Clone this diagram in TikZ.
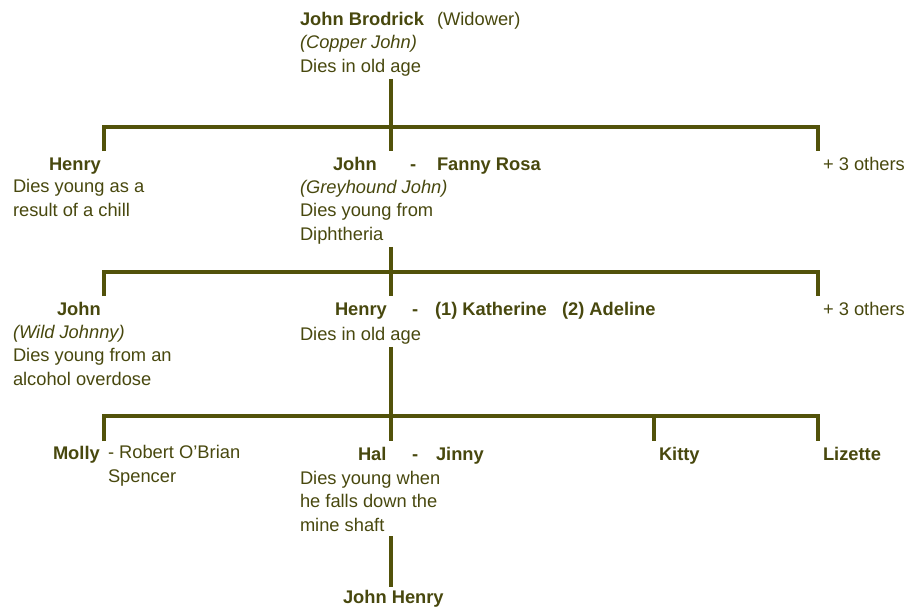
\documentclass[tikz,border=0pt]{standalone}
\usepackage{fontspec}
\setmainfont{Liberation Sans}
\usetikzlibrary{positioning}
\definecolor{treetext}{RGB}{72,72,14}
\definecolor{treeline}{RGB}{82,82,10}

\begin{document}
\begin{tikzpicture}[x=1pt,y=-1pt,
    person/.style={anchor=base west,inner sep=0pt,outer sep=0pt,text=treetext,font=\fontsize{18.3}{23.5}\selectfont\bfseries},
    note/.style={anchor=base west,inner sep=0pt,outer sep=0pt,align=left,text=treetext,font=\fontsize{18.3}{23.5}\selectfont},
    branch/.style={draw=treeline,line width=4.6pt}]
    \useasboundingbox (0,0) rectangle (907,606);

    \node [person] (brodrick) at (300,25) {John Brodrick};
    \node [note] (widower) at (437,25) {(Widower)};
    \node [note] (brodrickinfo) at (300,72) {\textit{(Copper John)}\\Dies in old age};

    \node [person] (henry1) at (49,170) {Henry};
    \node [note] (henry1info) at (13,216) {Dies young as a\\result of a chill};
    \node [person] (john1) at (333,170) {John};
    \node [person] (dash1) at (410,170) {-};
    \node [person] (fanny) at (437,170) {Fanny Rosa};
    \node [note] (john1info) at (300,240) {\textit{(Greyhound John)}\\Dies young from\\Diphtheria};
    \node [note] (others1) at (823,170) {+ 3 others};

    \node [person] (john2) at (57,315) {John};
    \node [note] (john2info) at (13,385) {\textit{(Wild Johnny)}\\Dies young from an\\alcohol overdose};
    \node [person] (henry2) at (335,315) {Henry};
    \node [person] (dash2) at (412,315) {-};
    \node [person] (katherine) at (435,315) {(1) Katherine};
    \node [person] (adeline) at (562,315) {(2) Adeline};
    \node [note] (henry2info) at (300,340) {Dies in old age};
    \node [note] (others2) at (823,315) {+ 3 others};

    \node [person] (molly) at (53,459) {Molly};
    \node [note] (robert) at (108,482) {- Robert O'Brian\\Spencer};
    \node [person] (hal) at (358,460) {Hal};
    \node [person] (dash3) at (412,460) {-};
    \node [person] (jinny) at (436,460) {Jinny};
    \node [note] (halinfo) at (300,531) {Dies young when\\he falls down the\\mine shaft};
    \node [person] (kitty) at (659,460) {Kitty};
    \node [person] (lizette) at (823,460) {Lizette};
    \node [person] (johnhenry) at (343,603) {John Henry};

    \coordinate (bar1) at (391,127);
    \coordinate (bar2) at (391,272);
    \coordinate (bar3) at (391,416);
    \coordinate (tick1a) at (104,151);
    \coordinate (tick1b) at (391,151);
    \coordinate (tick1c) at (818,151);
    \coordinate (tick2a) at (104,296);
    \coordinate (tick2b) at (391,296);
    \coordinate (tick2c) at (818,296);
    \coordinate (tick3a) at (104,441);
    \coordinate (tick3b) at (391,441);
    \coordinate (tick3c) at (654,441);
    \coordinate (tick3d) at (818,441);

    \draw [branch,shorten <=3pt] (brodrickinfo.south -| bar1) -- (tick1b);
    \draw [branch] (tick1a) |- (bar1) -| (tick1c);

    \draw [branch,shorten <=3pt] (john1info.south -| bar2) -- (tick2b);
    \draw [branch] (tick2a) |- (bar2) -| (tick2c);

    \draw [branch,shorten <=3pt] (henry2info.south -| bar3) -- (tick3b);
    \draw [branch] (tick3a) |- (bar3) -| (tick3d);
    \draw [branch] (tick3c |- bar3) -- (tick3c);

    \draw [branch,shorten <=5pt,shorten >=3pt] (halinfo.south -| bar3) -- (johnhenry.north -| bar3);
\end{tikzpicture}
\end{document}
